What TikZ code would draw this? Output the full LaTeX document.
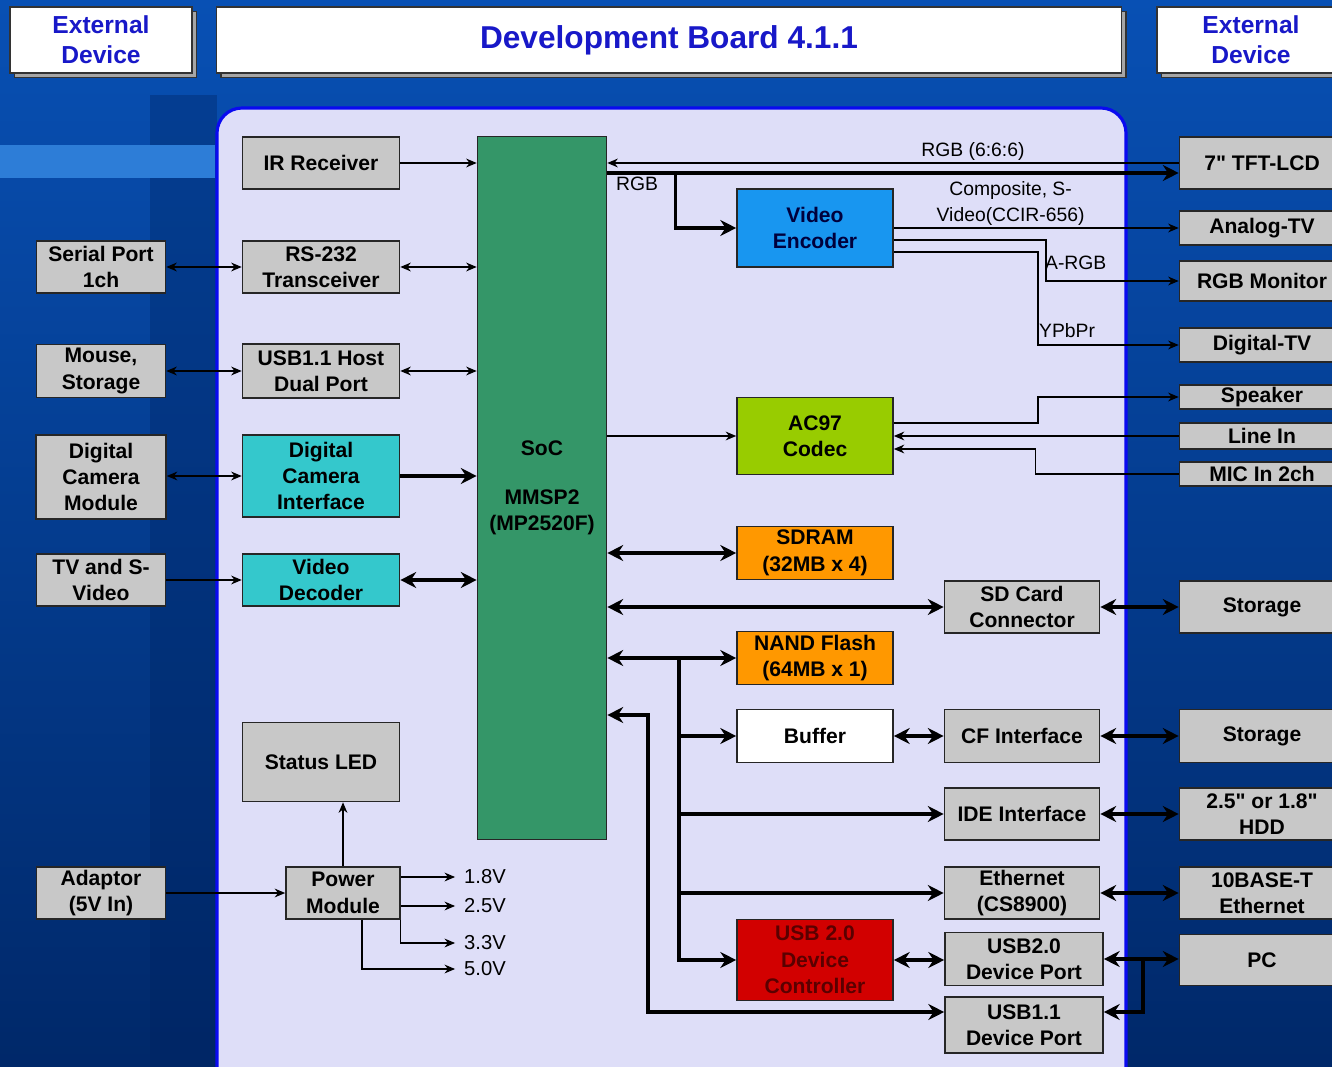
\documentclass[tikz,border=0pt]{standalone}
\usepackage{fontspec}
\setmainfont{Liberation Sans}[Ligatures=TeXOff]
\usetikzlibrary{arrows.meta, calc, positioning, shadows}

\definecolor{boardfill}{RGB}{222,222,248}
\definecolor{boardline}{RGB}{10,10,240}
\definecolor{boxgray}{RGB}{200,200,200}
\definecolor{socgreen}{RGB}{52,150,104}
\definecolor{camcyan}{RGB}{52,200,204}
\definecolor{encblue}{RGB}{24,150,240}
\definecolor{codecgreen}{RGB}{152,204,0}
\definecolor{memorange}{RGB}{255,152,0}
\definecolor{usbred}{RGB}{210,0,0}
\definecolor{usbtext}{RGB}{90,0,0}
\definecolor{titleblue}{RGB}{24,24,200}
\definecolor{bgtop}{RGB}{8,80,180}
\definecolor{bgbottom}{RGB}{0,40,105}
\definecolor{bgdark}{RGB}{0,35,95}
\definecolor{stripe}{RGB}{45,125,215}

\begin{document}
\begin{tikzpicture}[x=0.02cm, y=-0.02cm,
    wh/.style 2 args={minimum width=#1*0.02cm, minimum height=#2*0.02cm},
    blk/.style={draw=black!85, line width=0.9pt, fill=boxgray, align=center,
        inner sep=0pt, font=\fontsize{12}{15}\selectfont\bfseries},
    hdr/.style={draw=black!80, line width=0.8pt, fill=white, align=center, inner sep=0pt,
        text=titleblue, font=\fontsize{14}{17}\selectfont\bfseries,
        general shadow={fill=black!35, draw=black!80, shadow xshift=2.5pt, shadow yshift=-2.5pt}},
    wlbl/.style={font=\fontsize{11}{15}\selectfont, inner sep=1pt, align=center},
    volt/.style={font=\fontsize{11.5}{14}\selectfont, inner xsep=5pt, inner ysep=1pt},
    lnk/.style={line width=0.8pt, -{Stealth[length=6pt, width=5pt]}},
    lnkb/.style={line width=0.8pt, {Stealth[length=6pt, width=5pt]}-{Stealth[length=6pt, width=5pt]}},
    bus/.style={line width=2pt, -{Stealth[length=9pt, width=9pt]}},
    busb/.style={line width=2pt, {Stealth[length=9pt, width=9pt]}-{Stealth[length=9pt, width=9pt]}}]

\useasboundingbox (0,0) rectangle (1332,1067);
\clip (0,0) rectangle (1332,1067);

% background
\shade [top color=bgtop, bottom color=bgbottom] (0,0) rectangle (1332,1067);
\fill [bgdark, opacity=0.35] (150,95) rectangle (217,1067);
\fill [stripe] (0,145) rectangle (215,178);
\draw [boardline, line width=1.8pt, fill=boardfill, rounded corners=0.5cm] (217,108) rectangle (1126,1110);

% headers
\node (hdl) [hdr, wh={182}{66}] at (101,40) {External\\Device};
\node (title) [hdr, wh={905}{66}, font=\fontsize{18}{20}\selectfont\bfseries] at (669,40) {Development Board 4.1.1};
\node (hdr) [hdr, wh={188}{66}] at (1251,40) {External\\Device};

% external devices, left
\node (spext) [blk, wh={129}{52}] at (101,267) {Serial Port\\1ch};
\node (msext) [blk, wh={129}{53}] at (101,371) {Mouse,\\Storage};
\node (dcmext) [blk, wh={130}{84}] at (101,477) {Digital\\Camera\\Module};
\node (tvext) [blk, wh={129}{52}] at (101,580) {TV and S-\\Video};
\node (adext) [blk, wh={129}{52}] at (101,893) {Adaptor\\(5V In)};

% board, left column
\node (ir) [blk, wh={157}{52}] at (321,163) {IR Receiver};
\node (rs) [blk, wh={157}{52}] at (321,267) {RS-232\\Transceiver};
\node (usbh) [blk, wh={157}{54}] at (321,371) {USB1.1 Host\\Dual Port};
\node (dci) [blk, wh={157}{82}, fill=camcyan] at (321,476) {Digital\\Camera\\Interface};
\node (vdec) [blk, wh={157}{52}, fill=camcyan] at (321,580) {Video\\Decoder};
\node (led) [blk, wh={157}{79}] at (321,762) {Status LED};
\node (pwr) [blk, wh={114}{52}] at (343,893) {Power\\Module};

\node (soc) [blk, wh={129}{703}, fill=socgreen] at (542,488) {SoC\\[13pt]MMSP2\\(MP2520F)};

% board, right part
\node (venc) [blk, wh={156}{78}, fill=encblue, text={rgb,255:red,0;green,0;blue,60}] at (815,228) {Video\\Encoder};
\node (ac97) [blk, wh={156}{77}, fill=codecgreen] at (815,436) {AC97\\Codec};
\node (sdram) [blk, wh={156}{53}, fill=memorange] at (815,553) {SDRAM\\(32MB x 4)};
\node (sdc) [blk, wh={155}{52}] at (1022,607) {SD Card\\Connector};
\node (nand) [blk, wh={156}{53}, fill=memorange] at (815,658) {NAND Flash\\(64MB x 1)};
\node (buf) [blk, wh={156}{53}, fill=white] at (815,736) {Buffer};
\node (cf) [blk, wh={155}{53}] at (1022,736) {CF Interface};
\node (ide) [blk, wh={155}{52}] at (1022,814) {IDE Interface};
\node (eth) [blk, wh={155}{52}] at (1022,893) {Ethernet\\(CS8900)};
\node (usbc) [blk, wh={156}{81}, fill=usbred, text=usbtext] at (815,960) {USB 2.0\\Device\\Controller};
\node (usb2p) [blk, wh={158}{53}] at (1024,959) {USB2.0\\Device Port};
\node (usb1p) [blk, wh={158}{56}] at (1024,1025) {USB1.1\\Device Port};

% external devices, right
\node (tft) [blk, wh={165}{52}] at (1262,163) {7" TFT-LCD};
\node (atv) [blk, wh={165}{34}] at (1262,228) {Analog-TV};
\node (rgbm) [blk, wh={165}{40}] at (1262,281) {RGB Monitor};
\node (dtv) [blk, wh={165}{34}] at (1262,345) {Digital-TV};
\node (spk) [blk, wh={165}{24}] at (1262,397) {Speaker};
\node (linein) [blk, wh={165}{26}] at (1262,436) {Line In};
\node (mic) [blk, wh={165}{24}] at (1262,474) {MIC In 2ch};
\node (stor1) [blk, wh={165}{52}] at (1262,607) {Storage};
\node (stor2) [blk, wh={165}{53}] at (1262,736) {Storage};
\node (hdd) [blk, wh={165}{52}] at (1262,814) {2.5" or 1.8"\\HDD};
\node (tbase) [blk, wh={165}{52}] at (1262,893) {10BASE-T\\Ethernet};
\node (pc) [blk, wh={165}{51}] at (1262,960) {PC};

% voltage outputs
\node (v18) [volt] at (485,877) {1.8V};
\node (v25) [volt] at (485,906) {2.5V};
\node (v33) [volt] at (485,943) {3.3V};
\node (v50) [volt] at (485,969) {5.0V};

\coordinate (sp) at (679,658);
\coordinate (u1) at (648,715);

% Arrows, left side
\draw [lnk] (ir) -- (ir -| soc.west);
\draw [lnkb] (spext) -- (rs);
\draw [lnkb] (rs) -- (rs -| soc.west);
\draw [lnkb] (msext) -- (usbh);
\draw [lnkb] (usbh) -- (usbh -| soc.west);
\draw [lnkb] (dcmext.east |- dci) -- (dci);
\draw [bus] (dci) -- (dci -| soc.west);
\draw [lnk] (tvext) -- (vdec);
\draw [busb] (vdec) -- (vdec -| soc.west);
\draw [lnk] (adext) -- (pwr);
\draw [lnk] (pwr.north) -- (pwr.north |- led.south);
\draw [lnk] (pwr.east |- v18) -- (v18.west);
\draw [lnk] (pwr.east |- v25) -- (v25.west);
\draw [lnk] (pwr.south east) |- (v33.west);
\draw [lnk] ($(pwr.south)+(19,0)$) |- (v50.west);

% Arrows, video and audio
\draw [lnk] (tft.west) -- (tft.west -| soc.east)
    node [wlbl, above, pos=0.36] {RGB (6:6:6)};
\draw [bus] ($(soc.east |- tft.west)+(0,10)$) -- ($(tft.west)+(0,10)$)
    node [wlbl, below right, pos=0, xshift=3pt] {RGB};
\draw [bus] ($(soc.east |- tft.west)+(68,10)$) |- (venc.west);
\draw [lnk] (venc.east |- atv) -- (atv.west)
    node [wlbl, above, pos=0.41] {Composite, S-\\Video(CCIR-656)};
\draw [lnk] ($(venc.east)+(0,12)$) -- ($(venc.east)+(152,12)$) |- (rgbm.west);
\node (argb) [wlbl, right] at (1043,263) {A-RGB};
\draw [lnk] ($(venc.east)+(0,24)$) -- ($(venc.east)+(144,24)$) |- (dtv.west);
\node (ypbpr) [wlbl, right] at (1037,331) {YPbPr};
\draw [lnk] (soc.east |- ac97) -- (ac97.west);
\draw [lnk] ($(ac97.east)+(0,-13)$) -- ($(ac97.east)+(144,-13)$) |- (spk.west);
\draw [lnk] (linein.west) -- (linein.west -| ac97.east);
\draw [lnk] (mic.west) -- ++(-143,0) |- ($(ac97.east)+(0,13)$);

% Arrows, memory and ports
\draw [busb] (soc.east |- sdram) -- (sdram.west);
\draw [busb] (soc.east |- sdc) -- (sdc.west);
\draw [busb] (sdc) -- (stor1);
\draw [busb] (soc.east |- nand) -- (nand.west);
\draw [bus] (sp) |- (usbc.west);
\draw [bus] (sp |- buf) -- (buf.west);
\draw [bus] (sp |- ide) -- (ide.west);
\draw [bus] (sp |- eth) -- (eth.west);
\draw [busb] (buf) -- (cf);
\draw [busb] (cf) -- (stor2);
\draw [busb] (ide) -- (hdd);
\draw [busb] (eth) -- (tbase);
\draw [busb] (usbc.east) -- (usbc.east -| usb2p.west);
\draw [busb] (soc.east |- u1) -- (u1) |- ($(usb1p.west)+(0,-13)$);
\draw [busb] (usb2p.east) -- (usb2p.east -| pc.west);
\draw [bus] ($(usb2p.east)+(39,0)$) |- ($(usb1p.east)+(0,-13)$);
\end{tikzpicture}
\end{document}
